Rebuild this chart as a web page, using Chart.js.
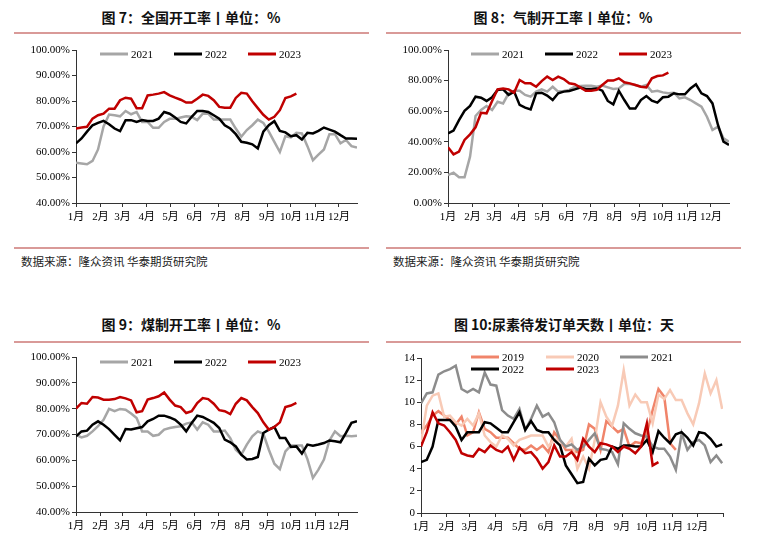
<!DOCTYPE html>
<html lang="zh">
<head>
<meta charset="utf-8">
<title>开工率与尿素待发订单天数</title>
<script src="https://cdn.jsdelivr.net/npm/chart.js@4.4.0/dist/chart.umd.min.js"></script>
<style>
  body { margin: 0; width: 760px; height: 543px; background: #fff; position: relative; overflow: hidden; font-family: "Noto Sans CJK SC", sans-serif; }
  .title { position: absolute; width: 380px; text-align: center; font-weight: bold; font-size: 14px; line-height: 20px; color: #111; }
  .sep { position: absolute; width: 355px; height: 2px; background: #d99a98; }
  .src { position: absolute; font-size: 11.5px; line-height: 14px; color: #222; }
  .box { position: absolute; width: 370px; height: 195px; }
</style>
</head>
<body>

<div class="title" style="left:1px;top:7px">图 7：全国开工率丨单位：%</div>
<div class="sep" style="left:14px;top:32px"></div>
<div class="box" style="left:0;top:40px"><canvas id="chart1"></canvas></div>
<div class="sep" style="left:14px;top:247px"></div>
<div class="src" style="left:21px;top:254px">数据来源：隆众资讯 华泰期货研究院</div>

<div class="title" style="left:373px;top:7px">图 8：气制开工率丨单位：%</div>
<div class="sep" style="left:386px;top:32px"></div>
<div class="box" style="left:372px;top:40px"><canvas id="chart2"></canvas></div>
<div class="sep" style="left:386px;top:247px"></div>
<div class="src" style="left:393px;top:254px">数据来源：隆众资讯 华泰期货研究院</div>

<div class="title" style="left:1px;top:314px">图 9：煤制开工率丨单位：%</div>
<div class="sep" style="left:14px;top:341px"></div>
<div class="box" style="left:0;top:347px"><canvas id="chart3"></canvas></div>

<div class="title" style="left:374px;top:314px">图 10:尿素待发订单天数丨单位：天</div>
<div class="sep" style="left:386px;top:341px"></div>
<div class="box" style="left:372px;top:347px"><canvas id="chart4"></canvas></div>

<script>
// 月份刻度（一年中的第几天）
const monthDays = [0, 31, 59, 90, 120, 151, 181, 212, 243, 273, 304, 334];
const monthLabels = ['1月', '2月', '3月', '4月', '5月', '6月', '7月', '8月', '9月', '10月', '11月', '12月'];

// 图7 全国开工率 (%)，周度
const total2021 = [55.8, 55.5, 55.2, 56.5, 61, 70, 74.7, 74.4, 74, 76.1, 74.8, 75.7, 71.8, 71.8, 69.5, 69.5, 71.8, 73, 73, 73.5, 74, 73.8, 72.5, 75, 75, 72.7, 72.7, 72.7, 72.7, 69.2, 66, 68.6, 70.5, 72.7, 71.4, 68, 64, 60, 66.2, 65.7, 67.5, 67.3, 62.3, 56.8, 59, 61, 67, 67, 63.4, 64.7, 62.3, 61.7];
const total2022 = [63.4, 65.3, 68, 70.5, 71.4, 72.2, 70.9, 69.2, 68.2, 72.5, 72.5, 71.8, 72.5, 72.2, 72.2, 73.1, 75.7, 75, 73.5, 71.8, 71.2, 73.8, 76.1, 76.1, 75.7, 74.4, 73.1, 70.5, 69.2, 67, 64, 63.6, 63, 61.4, 68, 70.5, 72.1, 68.3, 67.7, 66.2, 66.6, 64.9, 67.5, 67.3, 68.3, 69.6, 68.8, 68, 66.6, 65.3, 65.3, 65.2];
const total2023 = [69.2, 69.6, 69.9, 73.1, 74.4, 75, 77, 77, 80.3, 81.3, 80.9, 77.2, 77.2, 82.2, 82.5, 82.9, 83.5, 82.2, 81.3, 80.5, 79.4, 79.4, 80.9, 82.5, 82, 80.3, 77.7, 77.4, 77.4, 81.2, 83.2, 82.9, 79.9, 77.2, 74.6, 72.7, 73.8, 76.4, 81.2, 81.8, 82.9];

// 图8 气制开工率 (%)
const gas2021 = [18.3, 19.8, 16.8, 16.8, 30.3, 56.9, 60.8, 63.4, 60.8, 66.2, 65.1, 71.7, 73.4, 73.4, 70.6, 69.5, 72.8, 74.3, 72.8, 76, 72.8, 73.2, 73.9, 76, 76.5, 76.7, 76.7, 76, 76.7, 75.6, 74.5, 74.9, 77.8, 77.8, 77.1, 76, 77.1, 72.8, 73.4, 72.3, 71.7, 72.1, 68.4, 69.1, 67.3, 65.1, 63, 56.4, 47.7, 49.9, 42.3, 40.1];
const gas2022 = [45.5, 47.3, 54.2, 60.3, 63.4, 69.5, 68.8, 66.7, 69.1, 73.9, 74.3, 70.6, 72.8, 64.1, 62.3, 61.2, 71.7, 72.1, 70.2, 67.3, 71.7, 72.8, 73.2, 74.3, 75.4, 74.5, 74.5, 74.9, 73.4, 66.7, 64.5, 73.4, 67.3, 61.7, 61.7, 67.3, 69.9, 66.9, 65.6, 69.1, 69.5, 71.7, 71, 71, 74.9, 77.6, 71.7, 69.9, 65.1, 51, 40.1, 37.9];
const gas2023 = [36.4, 31.8, 33.6, 41.2, 44.9, 49.5, 59, 58.6, 66.7, 74.3, 74.9, 74.3, 72.1, 80.4, 78.2, 78.2, 76, 79.7, 82.6, 80.4, 82.6, 81, 78.2, 77.6, 75.6, 73.4, 73.4, 73.9, 77.1, 80, 80, 81.5, 78.9, 78.2, 77.1, 76, 75.6, 81.5, 83, 83.4, 85.2];

// 图9 煤制开工率 (%)
const coal2021 = [69.9, 68.9, 69.5, 71.2, 73.2, 75.7, 79.9, 79, 79.9, 79.6, 78.1, 76.4, 71.2, 71.2, 69.5, 69.9, 71.9, 72.5, 72.9, 73.2, 74.2, 74.7, 71.9, 74.7, 73.8, 71.2, 71.2, 71.5, 68.6, 64.1, 62.2, 66.1, 69.3, 71.2, 70.3, 64.1, 58.7, 56.6, 63.5, 65.7, 65.7, 65.7, 60.5, 53.2, 56.4, 60.3, 67.7, 71.2, 69.3, 69.5, 69.3, 69.5];
const coal2022 = [69.3, 71.2, 71.5, 73.8, 75.1, 73.8, 72.1, 69.9, 67.7, 72.1, 71.9, 72.4, 72.9, 75.1, 76, 77.3, 77.3, 76.6, 75.7, 73.8, 71.2, 74.5, 77.3, 76.8, 75.7, 74.5, 72.5, 68, 67, 65.4, 62.2, 60.3, 60.5, 61.3, 70.6, 71.9, 72.9, 68.6, 68.6, 65.2, 65.4, 62.6, 66.1, 65.7, 66.1, 66.7, 67.7, 67.4, 67, 70.6, 74.5, 75.1];
const coal2023 = [80, 82.2, 81.9, 84.5, 84.3, 83.5, 83.5, 83.7, 84.5, 84, 83.2, 78.6, 79, 83.5, 84.1, 84.8, 86.3, 83.5, 81.2, 80.6, 78.3, 79, 82.2, 84.1, 83.7, 81.9, 79.4, 79, 77.9, 81.9, 84.1, 83.2, 80.6, 78.3, 74.7, 71.9, 72.9, 74.7, 80.6, 81.2, 82.2];

// 图10 尿素待发订单天数 (天)
const urea2019 = [7.3, 7.9, 8.8, 9.2, 8.8, 8.4, 8, 8.7, 7, 7.3, 9.1, 7.6, 7.3, 6.8, 6.8, 6.8, 6.3, 5.8, 5.7, 6.1, 5.7, 6.1, 5.5, 7.3, 6.6, 5.7, 5.7, 5.5, 5.7, 8, 7.6, 5.7, 8.3, 7.8, 7.3, 7.6, 6, 6.4, 6.3, 7.2, 9.3, 11.2, 10.5, 6.3, 5.7];
const urea2020 = [6.4, 9.7, 10.6, 10.8, 8.7, 8.8, 8.2, 7.9, 8.5, 7.9, 9, 7, 6.4, 6, 7, 6.7, 6.1, 6.6, 6.8, 7, 7, 7, 6, 6.7, 6.5, 6, 6.7, 4, 5.1, 4, 6.6, 10, 8.7, 7.9, 9.7, 12.9, 9.7, 10.7, 10, 10, 8.1, 10.7, 10.3, 11.1, 10.2, 10.2, 9, 8, 9.9, 12.6, 10.8, 12, 9.4];
const urea2021 = [9.9, 10.8, 10.9, 12.5, 12.8, 13, 13.3, 11.2, 10.9, 11.2, 10.9, 12.7, 11.6, 11.5, 9.3, 8.8, 8.5, 9.4, 7.5, 8.5, 9.7, 8.7, 9, 8.2, 6.6, 6, 6.2, 5.7, 6, 6.6, 7.2, 5.8, 5.7, 5.5, 4.4, 8.1, 7.6, 7.2, 7, 6.9, 6, 5.8, 5.8, 5.1, 3.9, 7.2, 5.7, 6.4, 6.6, 6.1, 4.6, 5.2, 4.5];
const urea2022 = [4.6, 4.8, 6, 8.4, 8.4, 8.4, 7.8, 6.6, 7.3, 7.3, 7.3, 8.2, 8.1, 7.7, 7.3, 7.3, 8.2, 9.1, 7.5, 8.3, 7.5, 7.3, 7.3, 6.6, 6.1, 4.3, 3.5, 2.7, 2.8, 4.9, 4.3, 4.8, 4.9, 6, 5.8, 6.1, 6.1, 6, 6, 6.6, 5.5, 7.4, 6.8, 6.3, 7.1, 7.3, 6.8, 6.1, 7.3, 7.2, 6.7, 6, 6.2];
const urea2023 = [6, 7.3, 9.1, 8.1, 7.9, 7.3, 6.6, 5.4, 5.2, 5.1, 5.8, 5.5, 6.1, 5.7, 5.5, 6, 4.8, 5.9, 5.4, 5.5, 4.9, 4, 4.6, 6.1, 5.1, 5.1, 5.5, 4.8, 6.7, 6, 5.5, 6.3, 6.2, 6, 5.5, 6, 5.8, 5.4, 6, 8.1, 4.3, 4.6];

const axisFont = { family: '"Liberation Serif", "Noto Sans CJK SC", serif', size: 11 };
const axisColor = '#333';

// 周度数据：第 i 周放在第 i*7 天
function toPoints(values) {
    return values.map((v, i) => ({ x: i * 7, y: v }));
}

// 图例画在绘图区里面
const legendInside = {
    id: 'legendInside',
    afterDatasetsDraw(chart, args, opts) {
        const { ctx, chartArea } = chart;
        ctx.save();
        ctx.font = '11px "Liberation Serif", serif';
        ctx.textBaseline = 'middle';
        ctx.fillStyle = '#000';
        chart.data.datasets.forEach((ds, i) => {
            const [dx, dy] = opts.items[i];
            const x = chartArea.left + dx;
            const y = chartArea.top + dy;
            ctx.strokeStyle = ds.borderColor;
            ctx.lineWidth = 3;
            ctx.beginPath();
            ctx.moveTo(x, y);
            ctx.lineTo(x + 28, y);
            ctx.stroke();
            ctx.fillText(ds.label, x + 31, y + 1);
        });
        ctx.restore();
    }
};

function lineChart(id, series, o) {
    return new Chart(document.getElementById(id), {
        type: 'line',
        data: {
            datasets: series.map(s => ({
                label: s.label,
                data: toPoints(s.values),
                borderColor: s.color,
                borderWidth: 2.5,
                pointRadius: 0,
                tension: 0,
                fill: false,
                order: s.order
            }))
        },
        options: {
            responsive: true,
            maintainAspectRatio: false,
            animation: false,
            layout: { padding: o.padding },
            plugins: {
                legend: { display: false },
                tooltip: { enabled: false },
                legendInside: { items: o.legend }
            },
            scales: {
                x: {
                    type: 'linear',
                    min: 0,
                    max: o.xMax,
                    afterBuildTicks: scale => { scale.ticks = o.xTicks.map(v => ({ value: v })); },
                    afterFit: scale => { scale.height = o.xHeight; },
                    ticks: {
                        autoSkip: false,
                        maxRotation: 0,
                        padding: 4,
                        color: '#000',
                        font: axisFont,
                        callback: v => monthLabels[monthDays.indexOf(v)] || ''
                    },
                    grid: { drawOnChartArea: false, tickLength: 4, color: axisColor },
                    border: { color: axisColor }
                },
                y: {
                    min: o.yMin,
                    max: o.yMax,
                    afterFit: scale => { scale.width = o.yWidth; },
                    ticks: {
                        stepSize: o.yStep,
                        padding: 2,
                        color: '#000',
                        font: axisFont,
                        callback: o.yLabel
                    },
                    grid: { drawOnChartArea: false, tickLength: 4, color: axisColor },
                    border: { color: axisColor }
                }
            }
        },
        plugins: [legendInside]
    });
}

const pct = v => v.toFixed(2) + '%';

const topOpts = {
    padding: { top: 10, right: 13, bottom: 0, left: 0 },
    xMax: 357, xTicks: monthDays, xHeight: 32, yWidth: 76
};

lineChart('chart1', [
    { label: '2021', values: total2021, color: '#a6a6a6', order: 3 },
    { label: '2022', values: total2022, color: '#000000', order: 2 },
    { label: '2023', values: total2023, color: '#c00000', order: 1 }
], Object.assign({}, topOpts, { yMin: 40, yMax: 100, yStep: 10, yLabel: pct, legend: [[24, 4], [98, 4], [172, 4]] }));

lineChart('chart2', [
    { label: '2021', values: gas2021, color: '#a6a6a6', order: 3 },
    { label: '2022', values: gas2022, color: '#000000', order: 2 },
    { label: '2023', values: gas2023, color: '#c00000', order: 1 }
], Object.assign({}, topOpts, { yMin: 0, yMax: 100, yStep: 20, yLabel: pct, legend: [[23, 4], [97, 4], [171, 4]] }));

lineChart('chart3', [
    { label: '2021', values: coal2021, color: '#a6a6a6', order: 3 },
    { label: '2022', values: coal2022, color: '#000000', order: 2 },
    { label: '2023', values: coal2023, color: '#c00000', order: 1 }
], Object.assign({}, topOpts, { xHeight: 30, yMin: 40, yMax: 100, yStep: 10, yLabel: pct, legend: [[24, 5], [98, 5], [172, 5]] }));

lineChart('chart4', [
    { label: '2019', values: urea2019, color: '#f0846a', order: 5 },
    { label: '2020', values: urea2020, color: '#f8cab6', order: 4 },
    { label: '2021', values: urea2021, color: '#8c8c8c', order: 3 },
    { label: '2022', values: urea2022, color: '#000000', order: 2 },
    { label: '2023', values: urea2023, color: '#c00000', order: 1 }
], {
    padding: { top: 11, right: 19, bottom: 0, left: 0 },
    xMax: 365, xTicks: monthDays.concat([365]), xHeight: 29, yWidth: 49,
    yMin: 0, yMax: 14, yStep: 2, yLabel: v => v,
    legend: [[50, -1], [125, -1], [199, -1], [50, 11], [125, 11]]
});
</script>
</body>
</html>
